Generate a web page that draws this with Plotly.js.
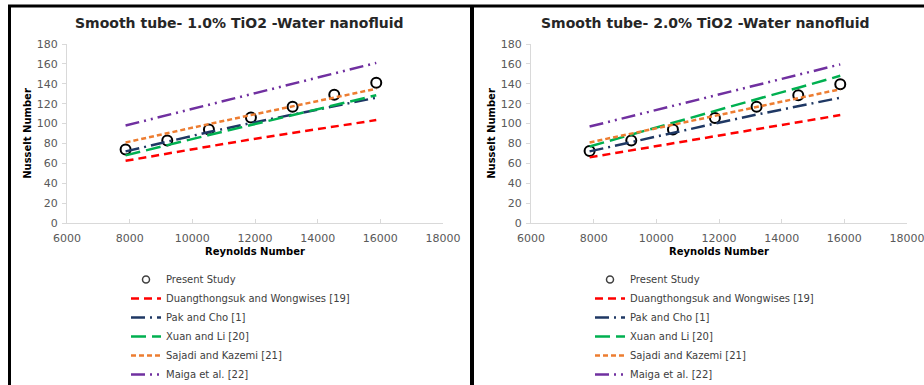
<!DOCTYPE html>
<html>
<head>
<meta charset="utf-8">
<script src="https://cdn.plot.ly/plotly-3.0.1.min.js"></script>
<style>html,body{margin:0;padding:0;background:#fff;}#chart{width:924px;height:385px;}</style>
</head>
<body>
<div id="chart"></div>
<script>
// Reynolds numbers (shared)
const reynolds = [7870, 9200, 10530, 11870, 13200, 14530, 15870];

// Panel 1: 1.0% TiO2
const present1 = [74, 83, 94, 106, 117, 129, 141];
const duang1   = [62.5, 70, 77, 84, 90.5, 97, 103.5];
const pak1     = [72, 82, 91.5, 100.5, 109, 117.5, 126];
const xuan1    = [68, 78.5, 88.5, 98.5, 108.5, 118.5, 128.5];
const sajadi1  = [81, 90.5, 99.5, 108.5, 117.5, 126.5, 135];
const maiga1   = [98, 108.5, 119, 129.5, 140, 150.5, 161];

// Panel 2: 2.0% TiO2
const present2 = [72.5, 83, 94, 105.5, 117, 128.5, 139.5];
const duang2   = [66, 73, 80, 87, 94.5, 101.5, 108.5];
const pak2     = [72, 81.5, 91, 100, 109, 117.5, 126];
const xuan2    = [77, 89, 101, 112.5, 124.5, 136, 148];
const sajadi2  = [81, 90, 99, 108, 117, 126, 134.5];
const maiga2   = [97, 107.5, 118, 128.5, 139, 149, 159.5];

const names = ["Present Study", "Duangthongsuk and Wongwises [19]", "Pak and Cho [1]",
               "Xuan and Li [20]", "Sajadi and Kazemi [21]", "Maiga et al. [22]"];
const titles = ["Smooth tube- 1.0% TiO2 -Water nanofluid", "Smooth tube- 2.0% TiO2 -Water nanofluid"];

const styles = [
  null,
  {color: "#ff0000", dash: "8px,5px"},
  {color: "#1f3864", dash: "14px,5px,2px,5px"},
  {color: "#00b050", dash: "15px,6px"},
  {color: "#ed7d31", dash: "5px,3px"},
  {color: "#7030a0", dash: "14px,5px,2px,5px,2px,5px"}
];

const W = 924, H = 385;
const px = v => v / W, py = v => 1 - v / H;

function panelTraces(series, idx) {
  const xa = idx === 0 ? "x" : "x2", ya = idx === 0 ? "y" : "y2";
  const yHidden = idx === 0 ? "y3" : "y4";
  const lg = idx === 0 ? "legend" : "legend2";
  const out = [];
  series.forEach((s, i) => {
    if (i === 0) {
      // plotted markers (kept out of the legend)
      out.push({x: reynolds, y: s, name: names[i], type: "scatter", mode: "markers",
        xaxis: xa, yaxis: ya, legend: lg, showlegend: false, legendrank: 1,
        marker: {symbol: "circle-open", size: 10, color: "#000", line: {width: 2, color: "#000"}}});
      // legend entry with a smaller marker, on a hidden overlay axis (clipped away)
      out.push({x: reynolds, y: s, name: names[i], type: "scatter", mode: "markers",
        xaxis: xa, yaxis: yHidden, legend: lg, legendrank: 1, cliponaxis: true,
        marker: {symbol: "circle-open", size: 7, color: "#404040", line: {width: 1.5, color: "#404040"}}});
    } else {
      out.push({x: reynolds, y: s, name: names[i], type: "scatter", mode: "lines",
        xaxis: xa, yaxis: ya, legend: lg, legendrank: i + 1,
        line: {color: styles[i].color, dash: styles[i].dash, width: 2.5}});
    }
  });
  return out;
}

const data = [
  ...panelTraces([present1, duang1, pak1, xuan1, sajadi1, maiga1], 0),
  ...panelTraces([present2, duang2, pak2, xuan2, sajadi2, maiga2], 1)
];

const tickFont = {family: "DejaVu Sans", size: 11, color: "#595959"};
const axTitleFont = {family: "DejaVu Sans", size: 10, color: "#000", weight: "bold"};

function xAxis(d) {
  return {domain: d, range: [6000, 18000], dtick: 2000, tick0: 6000, tickformat: "d",
    showgrid: false, zeroline: false, ticklabeloverflow: "allow",
    showline: true, linecolor: "#d9d9d9", linewidth: 1, ticks: "inside", ticklen: 4, tickcolor: "#d9d9d9",
    tickfont: tickFont, automargin: false, ticklabelstandoff: 5,
    title: {text: "Reynolds Number", font: axTitleFont, standoff: 3}};
}
function yAxis(anchor) {
  return {domain: [py(223), py(44)], range: [0, 180], dtick: 20, showgrid: false, zeroline: false,
    showline: true, linecolor: "#d9d9d9", linewidth: 1, ticks: "outside", ticklen: 4, tickcolor: "#d9d9d9",
    tickfont: tickFont, automargin: false, anchor: anchor, ticklabelstandoff: 2,
    title: {text: "Nusselt Number", font: axTitleFont, standoff: 3}};
}
function hiddenY(over, anchor) {
  return {overlaying: over, anchor: anchor, range: [1000, 2000], visible: false, showgrid: false, zeroline: false};
}

const legendBase = {
  font: {family: "DejaVu Sans", size: 10, color: "#404040"},
  bgcolor: "rgba(0,0,0,0)", borderwidth: 0, tracegroupgap: 0,
  xanchor: "left", yanchor: "top", orientation: "v"
};

const layout = {
  width: W, height: H,
  margin: {l: 0, r: 0, t: 0, b: 0, autoexpand: false},
  paper_bgcolor: "#fff", plot_bgcolor: "#fff",
  showlegend: true,
  xaxis: Object.assign(xAxis([px(67), px(443)]), {anchor: "y"}),
  yaxis: yAxis("x"),
  xaxis2: Object.assign(xAxis([px(531), px(907)]), {anchor: "y2"}),
  yaxis2: yAxis("x2"),
  yaxis3: hiddenY("y", "x"),
  yaxis4: hiddenY("y2", "x2"),
  legend: Object.assign({}, legendBase, {x: px(126), y: py(265)}),
  legend2: Object.assign({}, legendBase, {x: px(590), y: py(265)}),
  annotations: [
    {text: titles[0], xref: "paper", yref: "paper", x: px(240), y: py(23), showarrow: false,
     xanchor: "center", yanchor: "middle", font: {family: "DejaVu Sans", size: 14, color: "#262626", weight: "bold"}},
    {text: titles[1], xref: "paper", yref: "paper", x: px(705), y: py(23), showarrow: false,
     xanchor: "center", yanchor: "middle", font: {family: "DejaVu Sans", size: 14, color: "#262626", weight: "bold"}}
  ],
  shapes: [
    {type: "line", xref: "paper", yref: "paper", x0: px(8), x1: 1, y0: py(6), y1: py(6), line: {color: "#000", width: 3}},
    {type: "line", xref: "paper", yref: "paper", x0: px(9.5), x1: px(9.5), y0: py(5), y1: 0, line: {color: "#000", width: 3}},
    {type: "line", xref: "paper", yref: "paper", x0: px(472), x1: px(472), y0: py(5), y1: 0, line: {color: "#000", width: 4}}
  ]
};

Plotly.newPlot("chart", data, layout, {staticPlot: true, displayModeBar: false});
</script>
</body>
</html>
